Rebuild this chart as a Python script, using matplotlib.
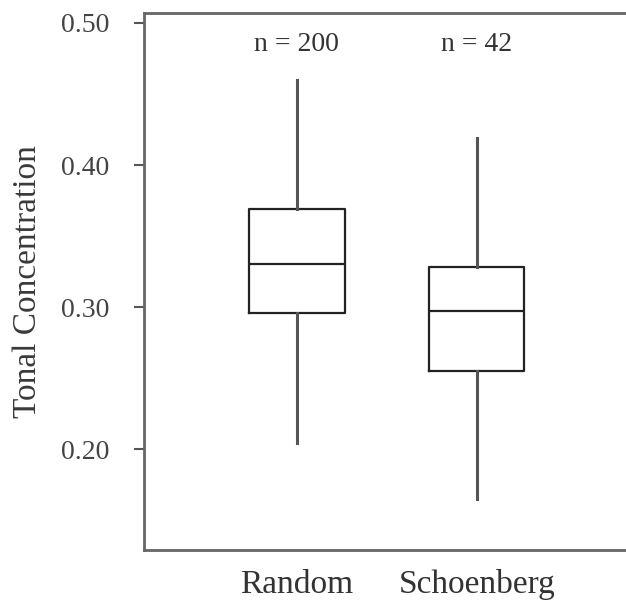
import numpy as np
import matplotlib.pyplot as plt

groups = ["Random", "Schoenberg"]
counts = [200, 42]
whis_low = [0.204, 0.165]
q1 = [0.296, 0.255]
medians = [0.330, 0.297]
q3 = [0.369, 0.328]
whis_high = [0.460, 0.419]
yticks = [0.20, 0.30, 0.40, 0.50]

plt.rcParams['font.family'] = ['Liberation Serif', 'DejaVu Serif']

fig = plt.figure(figsize=(6.26, 6.0), dpi=100)
ax = fig.add_axes([144 / 626, 50 / 600, 1.0 - 144 / 626, 537 / 600])

stats = []
for i, g in enumerate(groups):
    stats.append(dict(label=g, whislo=whis_low[i], q1=q1[i], med=medians[i],
                      q3=q3[i], whishi=whis_high[i], fliers=[]))

pos = [1, 2]
ax.bxp(stats, positions=pos, widths=0.53, showcaps=False, showfliers=False,
       boxprops=dict(color='#222222', linewidth=1.6),
       medianprops=dict(color='#222222', linewidth=1.6),
       whiskerprops=dict(color='#555555', linewidth=2.2))

for p, n in zip(pos, counts):
    ax.text(p, 0.485, "n = {0}".format(n), ha='center', va='center',
            fontsize=20, color='#333333')

ax.set_xlim(0.15, 2.83)
ax.set_ylim(0.129, 0.507)
ax.set_yticks(yticks)
ax.set_yticklabels(["{0:.2f}".format(t) for t in yticks])
ax.set_ylabel("Tonal Concentration", fontsize=24, color='#3a3a3a', labelpad=13)

ax.tick_params(axis='y', direction='out', length=7, width=1.5, color='#555555',
               labelsize=20, labelcolor='#444444', pad=18)
ax.tick_params(axis='x', length=0, labelsize=24, labelcolor='#333333', pad=14)

for s in ['left', 'top', 'bottom']:
    ax.spines[s].set_linewidth(2)
    ax.spines[s].set_color('#666666')
# right edge of the frame falls outside the picture
ax.spines['right'].set_visible(False)

fig.savefig("out.png", dpi=100)
